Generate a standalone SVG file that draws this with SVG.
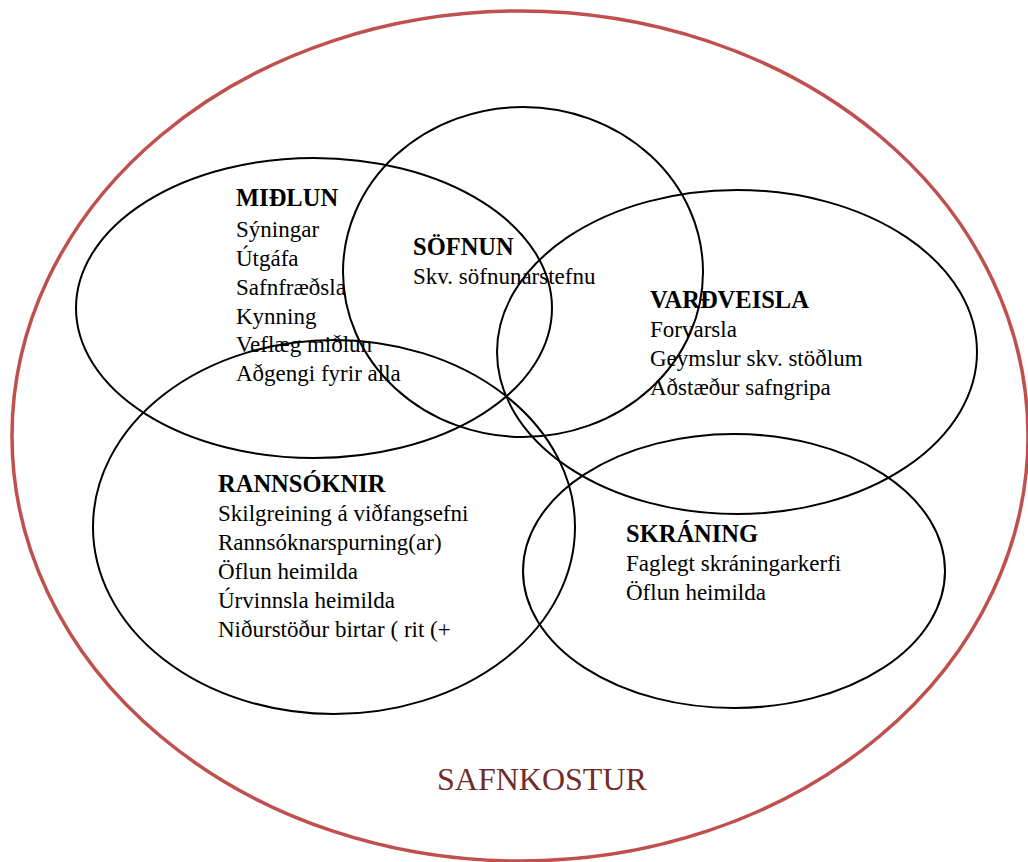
<svg xmlns="http://www.w3.org/2000/svg" width="1028" height="862" viewBox="0 0 1028 862">
<style>
.o{fill:none;stroke:#000;stroke-width:2}
.t{font-family:'Liberation Serif',serif;font-size:23px;fill:#000}
.h{font-weight:bold;font-size:24.5px}
.s{font-family:'Liberation Serif',serif;font-size:32px;fill:#722b2b}
</style>
<rect width="1028" height="862" fill="#fff"/>
<g id="safnkostur">
<ellipse cx="520" cy="436" rx="508" ry="425" fill="none" stroke="#c0504d" stroke-width="3.5"/>
<text class="s" x="437" y="790">SAFNKOSTUR</text>
</g>
<g id="midlun">
<ellipse class="o" cx="314" cy="308" rx="238" ry="150"/>
<text class="t" x="236"><tspan class="h" y="206">MIÐLUN</tspan><tspan x="236" y="237">Sýningar</tspan><tspan x="236" y="266">Útgáfa</tspan><tspan x="236" y="295">Safnfræðsla</tspan><tspan x="236" y="324">Kynning</tspan><tspan x="236" y="352">Veflæg miðlun</tspan><tspan x="236" y="381">Aðgengi fyrir alla</tspan></text>
</g>
<g id="sofnun">
<ellipse class="o" cx="523" cy="272" rx="180" ry="165"/>
<text class="t" x="413"><tspan class="h" y="255">SÖFNUN</tspan><tspan x="413" y="284">Skv. söfnunarstefnu</tspan></text>
</g>
<g id="vardveisla">
<ellipse class="o" cx="737" cy="352" rx="240" ry="162"/>
<text class="t" x="650"><tspan class="h" y="308">VARÐVEISLA</tspan><tspan x="650" y="337">Forvarsla</tspan><tspan x="650" y="366">Geymslur skv. stöðlum</tspan><tspan x="650" y="395">Aðstæður safngripa</tspan></text>
</g>
<g id="rannsoknir">
<ellipse class="o" cx="334" cy="527" rx="241" ry="187"/>
<text class="t" x="218"><tspan class="h" y="492">RANNSÓKNIR</tspan><tspan x="218" y="521">Skilgreining á viðfangsefni</tspan><tspan x="218" y="550">Rannsóknarspurning(ar)</tspan><tspan x="218" y="579">Öflun heimilda</tspan><tspan x="218" y="608">Úrvinnsla heimilda</tspan><tspan x="218" y="637">Niðurstöður birtar ( rit (+</tspan></text>
</g>
<g id="skraning">
<ellipse class="o" cx="734" cy="571" rx="211" ry="137"/>
<text class="t" x="626"><tspan class="h" y="542">SKRÁNING</tspan><tspan x="626" y="571">Faglegt skráningarkerfi</tspan><tspan x="626" y="600">Öflun heimilda</tspan></text>
</g>
<g id="connectors"/>
</svg>
